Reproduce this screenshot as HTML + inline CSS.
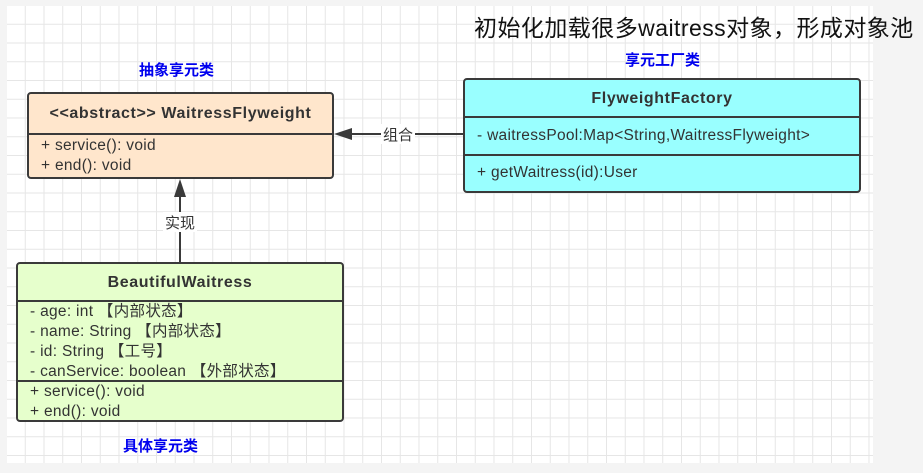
<!DOCTYPE html>
<html><head><meta charset="utf-8"><style>
body{margin:0;width:923px;height:473px;background:#f4f4f4;position:relative;overflow:hidden;font-family:"Liberation Sans","Noto Sans CJK SC",sans-serif}
.grid{position:absolute;left:7px;top:6px;width:866px;height:457px;background-color:#fff;
background-image:linear-gradient(#e6e6e6 1px,transparent 1px),linear-gradient(90deg,#e6e6e6 1px,transparent 1px);
background-size:18.75px 18.75px;background-position:-1px -1px}
.box{position:absolute;border:2px solid #3a3a3a;border-radius:4px;box-sizing:border-box;color:#333;font-size:15.5px;letter-spacing:0.3px}
.hd{font-weight:bold;font-size:16px;letter-spacing:0.6px;text-align:center;border-bottom:2px solid #3a3a3a;box-sizing:border-box}
.sec{padding-left:12px;line-height:20px;box-sizing:border-box;white-space:nowrap}
.lbl{position:absolute;color:#0000ee;font-weight:bold;font-size:15px}
</style></head><body>
<div class="grid"></div>
<div style="position:absolute;left:474px;top:9px;font-size:23px;letter-spacing:0.45px;color:#111;white-space:nowrap">初始化加载很多waitress对象，形成对象池</div>
<div class="lbl" style="left:139px;top:59px">抽象享元类</div>
<div class="lbl" style="left:625px;top:49px">享元工厂类</div>
<div class="lbl" style="left:123px;top:435px">具体享元类</div>

<div class="box" style="left:27px;top:92px;width:307px;height:87px;background:#ffe6cc">
<div class="hd" style="height:41px;line-height:40px">&lt;&lt;abstract&gt;&gt; WaitressFlyweight</div>
<div class="sec" style="padding-top:1px">+ service(): void<br>+ end(): void</div>
</div>

<div class="box" style="left:463px;top:78px;width:398px;height:115px;background:#99ffff">
<div class="hd" style="height:38px;line-height:37px">FlyweightFactory</div>
<div class="sec" style="height:38px;line-height:36px;border-bottom:2px solid #3a3a3a">- waitressPool:Map&lt;String,WaitressFlyweight&gt;</div>
<div class="sec" style="line-height:34px">+ getWaitress(id):User</div>
</div>

<div class="box" style="left:16px;top:262px;width:328px;height:160px;background:#e6ffcc">
<div class="hd" style="height:38px;line-height:38px">BeautifulWaitress</div>
<div class="sec" style="height:80px;border-bottom:2px solid #3a3a3a">- age: int 【内部状态】<br>- name: String 【内部状态】<br>- id: String 【工号】<br>- canService: boolean 【外部状态】</div>
<div class="sec" style="padding-left:12px">+ service(): void<br>+ end(): void</div>
</div>

<svg width="923" height="473" style="position:absolute;left:0;top:0">
<line x1="463" y1="134" x2="345" y2="134" stroke="#3a3a3a" stroke-width="2"/>
<polygon points="334,134 352,128 352,140" fill="#3a3a3a"/>
<rect x="381" y="124" width="34" height="20" fill="#fff"/>
<text x="398" y="140" font-size="15" fill="#333" text-anchor="middle" font-family="Liberation Sans,Noto Sans CJK SC,sans-serif">组合</text>
<line x1="180" y1="262" x2="180" y2="190" stroke="#3a3a3a" stroke-width="2"/>
<polygon points="180,179 174,197 186,197" fill="#3a3a3a"/>
<rect x="163" y="212" width="34" height="20" fill="#fff"/>
<text x="180" y="228" font-size="15" fill="#333" text-anchor="middle" font-family="Liberation Sans,Noto Sans CJK SC,sans-serif">实现</text>
</svg>
</body></html>
